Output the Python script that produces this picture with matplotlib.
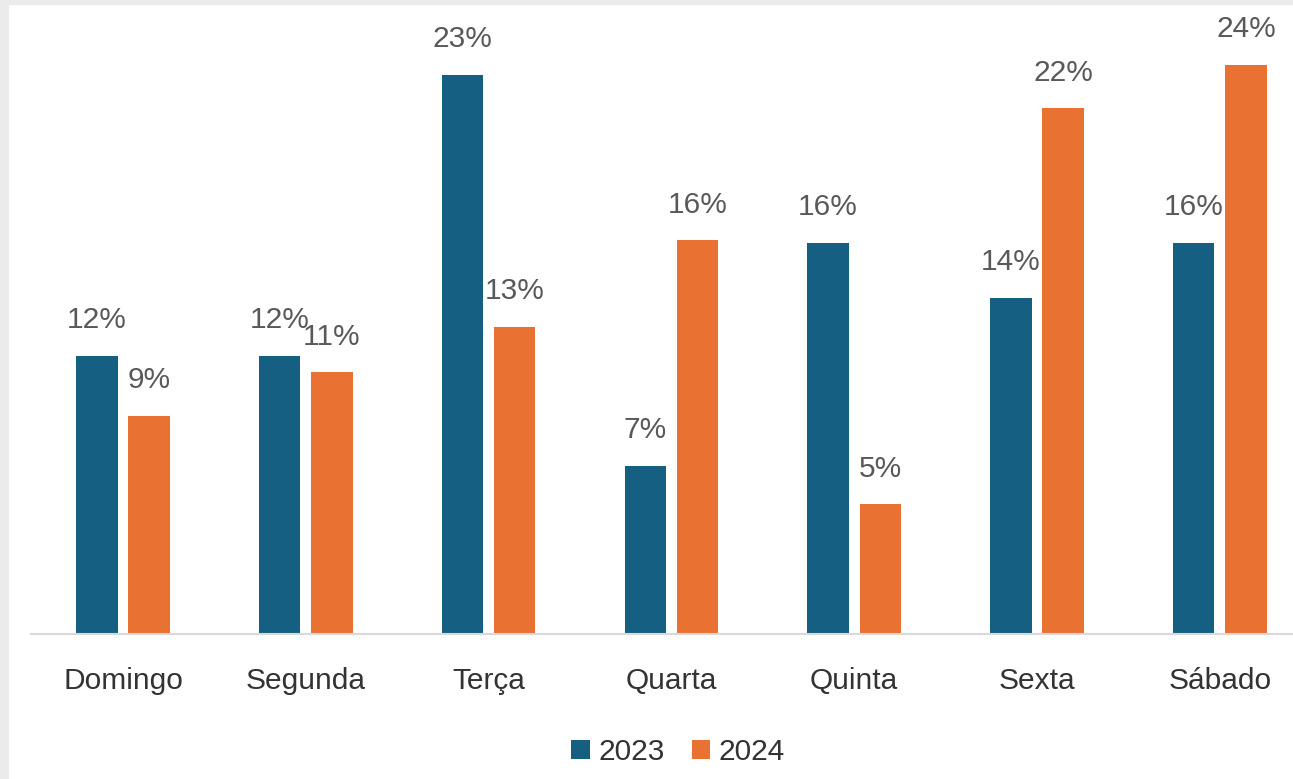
# weekday share chart, 2023 vs 2024
import numpy as np
import matplotlib.pyplot as plt
from matplotlib.patches import Rectangle

days = ["Domingo", "Segunda", "Terça", "Quarta", "Quinta", "Sexta", "Sábado"]
share_2023 = [11.6, 11.6, 23.3, 7.0, 16.3, 14.0, 16.3]   # percent
share_2024 = [9.1, 10.9, 12.8, 16.4, 5.4, 21.9, 23.7]

blue = "#156082"
orange = "#E97132"

plt.rcParams["font.family"] = ["Liberation Sans", "DejaVu Sans"]

W, H = 1293, 779
fig = plt.figure(figsize=(W / 100, H / 100), dpi=100, facecolor="white")

# light gray frame strips on the top and left like the screenshot
fig.patches.append(Rectangle((0, 0), 8 / W, 1, transform=fig.transFigure, color="#ebebeb", zorder=0))
fig.patches.append(Rectangle((0, 1 - 4 / H), 1, 4 / H, transform=fig.transFigure, color="#ebebeb", zorder=0))

# axes placed in pixels: baseline at y=634, left at x=31
ax = fig.add_axes([31 / W, (H - 634) / H, (W - 31) / W, 630 / H])
ax.set_facecolor("none")

x = np.arange(len(days))
w = 0.227
off = 0.143
b1 = ax.bar(x - off, share_2023, w, color=blue, label="2023")
b2 = ax.bar(x + off, share_2024, w, color=orange, label="2024")

for bars, vals in [(b1, share_2023), (b2, share_2024)]:
    for rect, v in zip(bars, vals):
        ax.annotate(f"{v:.0f}%", (rect.get_x() + rect.get_width() / 2, rect.get_height()),
                    xytext=(0, 20), textcoords="offset points", ha="center", va="baseline",
                    fontsize=21.5, color="#595959")

ax.set_xlim(-0.503, 6.40)
ax.set_ylim(0, 26.25)
ax.set_xticks(x)
ax.set_xticklabels(days, fontsize=21.5, color="#333333")
ax.tick_params(axis="x", length=0, pad=24)
ax.set_yticks([])
for s in ["top", "right", "left"]:
    ax.spines[s].set_visible(False)
ax.spines["bottom"].set_color("#d9d9d9")
ax.spines["bottom"].set_linewidth(1.5)

fig.legend(loc="center", bbox_to_anchor=(678 / W, 1 - 752 / H), ncol=2, frameon=False,
           fontsize=21.5, handlelength=0.63, handleheight=0.63, handletextpad=0.27,
           columnspacing=0.9, labelcolor="#333333")

fig.savefig("out.png", dpi=100, facecolor="white")
